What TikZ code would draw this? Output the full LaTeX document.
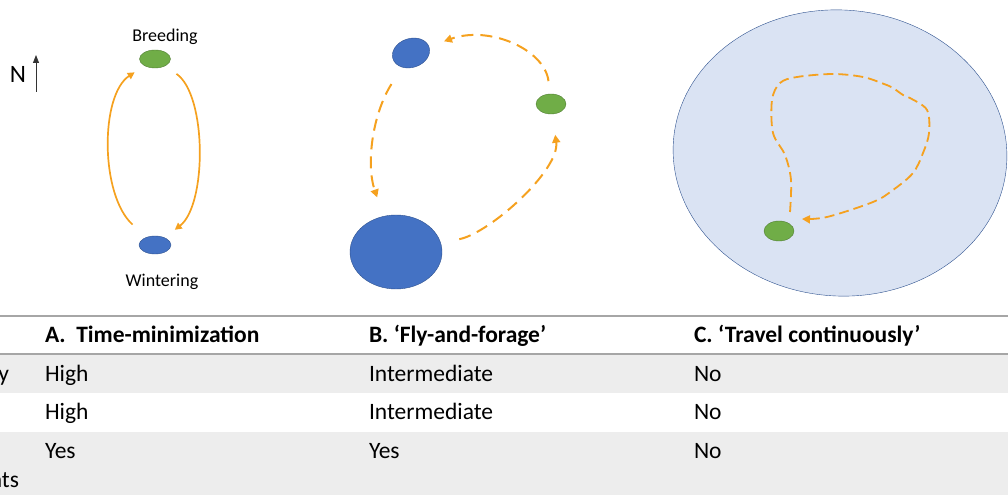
\documentclass[tikz,border=0pt]{standalone}
\usepackage{fontspec}
\setmainfont{Carlito}
\usepackage{tikz}
\usetikzlibrary{shapes,arrows.meta}
\usepackage{xcolor}

\definecolor{routeOrange}{HTML}{F5A11F}
\definecolor{siteGreen}{HTML}{70AD47}
\definecolor{siteGreenEdge}{HTML}{507E32}
\definecolor{siteBlue}{HTML}{4472C4}
\definecolor{siteBlueEdge}{HTML}{2F528F}
\definecolor{rangeBlue}{HTML}{DAE3F3}
\definecolor{rowGray}{HTML}{EDEDED}
\definecolor{ruleGray}{HTML}{A6A6A6}

\begin{document}
\begin{tikzpicture}[
  x=1pt,y=1pt,
  every node/.style={inner sep=0pt,outer sep=0pt},
  siteLabel/.style={font=\fontsize{18}{21}\selectfont,anchor=base},
  breedSite/.style={draw=siteGreenEdge,fill=siteGreen,thin,ellipse,minimum width=31pt,minimum height=18pt},
  winterSite/.style={draw=siteBlueEdge,fill=siteBlue,thin,ellipse},
  routeSolid/.style={-{Triangle[length=7pt,width=7pt]},line width=1.7pt,routeOrange},
  routeDashed/.style={-{Triangle[length=8pt,width=8pt]},line width=2pt,routeOrange,dash pattern=on 12pt off 7pt},
  routeWander/.style={-{Triangle[length=8pt,width=8pt]},line width=1.8pt,routeOrange,dash pattern=on 10pt off 5pt},
  tableText/.style={font=\fontsize{23.5}{27}\selectfont,anchor=base west},
  tableHead/.style={font=\fontsize{23.5}{27}\selectfont\bfseries,anchor=base west},
  tableRule/.style={ruleGray,line width=1.5pt}]

  \useasboundingbox (0,0) rectangle (1008,495);

  % compass
  \node[font=\fontsize{25}{28}\selectfont] (north) at (18,421) {N};
  \coordinate (nTail) at (36,403);
  \coordinate (nHead) at (36,440);
  \draw[-{Triangle[length=8pt,width=6pt]},line width=0.8pt,black!80] (nTail) -- (nHead);

  % A: time-minimization
  \node[breedSite] (breedA) at (155,436) {};
  \node[winterSite,minimum width=32pt,minimum height=18pt] (winterA) at (155,250) {};
  \node[siteLabel] (breedLabel) at (165,453) {Breeding};
  \node[siteLabel] (winterLabel) at (162,208) {Wintering};

  \draw[routeSolid,shorten <=19pt,shorten >=12pt] (winterA) .. controls (100,300) and (100,400) .. (breedA);
  \draw[routeSolid,shorten <=14pt,shorten >=13pt] (breedA) .. controls (207,400) and (207,290) .. (winterA);

  % B: fly-and-forage
  \node[winterSite,minimum width=38pt,minimum height=29pt,rotate=18] (stopB) at (411,442) {};
  \node[breedSite,minimum width=30pt,minimum height=20pt] (breedB) at (551,391) {};
  \node[winterSite,minimum width=92pt,minimum height=74pt] (winterB) at (396,243) {};

  \draw[routeDashed,shorten <=13pt,shorten >=16pt] (breedB) .. controls (545,445) and (490,470) .. (stopB);
  \draw[routeDashed,shorten <=20pt,shorten >=20pt] (stopB) .. controls (372,380) and (366,330) .. (winterB);
  \draw[routeDashed,shorten <=19pt,shorten >=21pt] (winterB) .. controls (490,262) and (560,325) .. (breedB);

  % C: travel continuously
  \node[draw=siteBlueEdge,fill=rangeBlue,thin,ellipse,minimum width=334pt,minimum height=286pt,rotate=-4] (rangeC) at (840,342) {};
  \node[breedSite,minimum width=30pt,minimum height=20pt] (breedC) at (779,264) {};

  \draw[routeWander] plot[smooth,tension=0.55] coordinates {
    (790,283) (791,315) (785,340) (773,362) (772,395) (780,412) (797,418)
    (833,421) (863,418) (884,411) (893,407) (903,400) (910,397) (927,385)
    (929,362) (923,342) (913,322) (893,305) (873,293) (827,278) (802,276)};

  % table
  \fill[rowGray] (0,102) rectangle (1008,141);
  \fill[rowGray] (0,0) rectangle (1008,63);
  \draw[tableRule] (0,179) -- (1008,179);
  \draw[tableRule] (0,141) -- (1008,141);

  \node[tableHead] (headA) at (45,152) {A.\ \ Time-minimization};
  \node[tableHead] (headB) at (369,152) {B. ‘Fly-and-forage’};
  \node[tableHead] (headC) at (694,152) {C. ‘Travel continuously’};

  \node[tableText,anchor=base east] (rowOne) at (9,113) {y};
  \node[tableText] (oneA) at (45,113) {High};
  \node[tableText] (oneB) at (369,113) {Intermediate};
  \node[tableText] (oneC) at (694,113) {No};

  \node[tableText] (twoA) at (45,75) {High};
  \node[tableText] (twoB) at (369,75) {Intermediate};
  \node[tableText] (twoC) at (694,75) {No};

  \node[tableText] (threeA) at (45,37) {Yes};
  \node[tableText] (threeB) at (369,37) {Yes};
  \node[tableText] (threeC) at (694,37) {No};
  \node[tableText,anchor=base east] (rowThree) at (19,8) {nts};
\end{tikzpicture}
\end{document}
